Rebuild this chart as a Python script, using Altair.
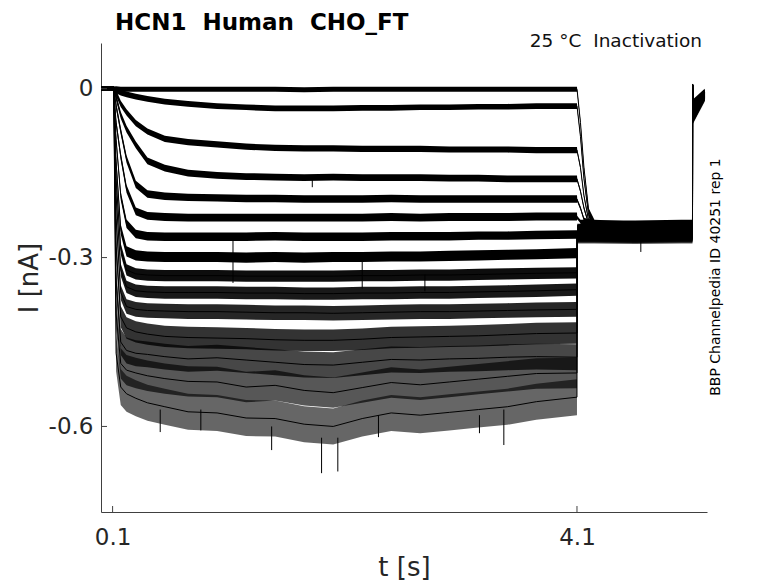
import altair as alt
import pandas as pd

# ---------------- data ----------------
TIMES = [0.0, 0.11, 0.13, 0.17, 0.22, 0.30, 0.40, 0.55, 0.75, 1.00, 1.25, 1.50,
         1.75, 2.00, 2.25, 2.50, 2.75, 3.00, 3.25, 3.50, 3.75, 4.10,
         4.102, 4.13, 4.16, 4.20, 4.25, 4.60, 5.00, 5.095, 5.096, 5.098, 5.20]

T01 = [0.000, 0.000, 0.000, -0.001, -0.001, -0.001, -0.001, -0.001, -0.001, -0.001, -0.001,
       -0.001, -0.002, -0.001, -0.001, -0.001, -0.001, -0.001, -0.001, -0.001, -0.001, -0.001,
       -0.004, -0.060, -0.140, -0.215, -0.246, -0.249, -0.248, -0.248, 0.007, -0.022, -0.003]
T02 = [0.000, 0.000, -0.003, -0.007, -0.010, -0.014, -0.018, -0.023, -0.027, -0.031, -0.033,
       -0.035, -0.035, -0.035, -0.034, -0.034, -0.033, -0.033, -0.032, -0.032, -0.031, -0.031,
       -0.034, -0.085, -0.160, -0.224, -0.248, -0.251, -0.250, -0.250, 0.007, -0.025, -0.004]
T03 = [0.000, 0.000, -0.008, -0.027, -0.042, -0.061, -0.076, -0.089, -0.095, -0.099, -0.103,
       -0.105, -0.106, -0.106, -0.107, -0.107, -0.107, -0.108, -0.108, -0.108, -0.109, -0.109,
       -0.111, -0.140, -0.190, -0.234, -0.247, -0.247, -0.246, -0.246, 0.007, -0.028, -0.006]
T04 = [0.000, 0.000, -0.015, -0.047, -0.072, -0.100, -0.128, -0.141, -0.150, -0.154, -0.156,
       -0.157, -0.158, -0.157, -0.158, -0.158, -0.158, -0.159, -0.159, -0.160, -0.160, -0.160,
       -0.162, -0.182, -0.212, -0.240, -0.252, -0.253, -0.252, -0.252, 0.007, -0.031, -0.007]
T05 = [0.000, 0.000, -0.030, -0.075, -0.125, -0.170, -0.187, -0.191, -0.193, -0.194, -0.195,
       -0.195, -0.196, -0.196, -0.196, -0.195, -0.196, -0.196, -0.196, -0.196, -0.196, -0.196,
       -0.198, -0.212, -0.232, -0.246, -0.249, -0.250, -0.249, -0.249, 0.007, -0.034, -0.008]
T06 = [0.000, 0.000, -0.060, -0.120, -0.178, -0.218, -0.226, -0.228, -0.229, -0.229, -0.229,
       -0.229, -0.229, -0.229, -0.229, -0.228, -0.229, -0.228, -0.228, -0.228, -0.227, -0.227,
       -0.229, -0.236, -0.246, -0.252, -0.254, -0.255, -0.254, -0.254, 0.007, -0.037, -0.009]
T07 = [0.000, 0.000, -0.090, -0.190, -0.240, -0.258, -0.262, -0.263, -0.263, -0.263, -0.263,
       -0.262, -0.263, -0.263, -0.263, -0.262, -0.262, -0.262, -0.261, -0.261, -0.260, -0.259,
       -0.256, -0.253, -0.251, -0.251, -0.251, -0.252, -0.251, -0.251, 0.007, -0.040, -0.010]
T08 = [0.000, 0.000, -0.130, -0.250, -0.289, -0.296, -0.298, -0.299, -0.299, -0.299, -0.300,
       -0.299, -0.300, -0.299, -0.299, -0.298, -0.298, -0.297, -0.296, -0.295, -0.294, -0.292,
       -0.256, -0.256, -0.256, -0.256, -0.256, -0.257, -0.256, -0.256, 0.007, -0.043, -0.011]
T09 = [0.000, 0.000, -0.160, -0.285, -0.322, -0.329, -0.331, -0.332, -0.332, -0.332, -0.333,
       -0.333, -0.333, -0.333, -0.332, -0.332, -0.331, -0.331, -0.330, -0.329, -0.328, -0.327,
       -0.253, -0.253, -0.253, -0.253, -0.253, -0.254, -0.253, -0.253, 0.007, -0.046, -0.012]
T10 = [0.000, 0.000, -0.190, -0.322, -0.352, -0.359, -0.361, -0.362, -0.362, -0.362, -0.363,
       -0.363, -0.364, -0.364, -0.363, -0.363, -0.362, -0.362, -0.361, -0.360, -0.359, -0.357,
       -0.258, -0.258, -0.258, -0.258, -0.258, -0.259, -0.258, -0.258, 0.007, -0.049, -0.013]
T11 = [0.000, 0.000, -0.230, -0.362, -0.387, -0.392, -0.394, -0.395, -0.396, -0.396, -0.397,
       -0.398, -0.398, -0.399, -0.398, -0.397, -0.396, -0.396, -0.395, -0.394, -0.393, -0.392,
       -0.255, -0.255, -0.255, -0.255, -0.255, -0.256, -0.255, -0.255, 0.007, -0.052, -0.014]
T12 = [0.000, 0.000, -0.280, -0.405, -0.425, -0.432, -0.436, -0.440, -0.442, -0.443, -0.444,
       -0.446, -0.447, -0.447, -0.445, -0.442, -0.441, -0.440, -0.439, -0.437, -0.435, -0.434,
       -0.260, -0.260, -0.260, -0.260, -0.260, -0.261, -0.260, -0.260, 0.007, -0.054, -0.015]
T13 = [0.000, 0.000, -0.340, -0.450, -0.465, -0.470, -0.472, -0.476, -0.480, -0.478, -0.482,
       -0.486, -0.490, -0.491, -0.486, -0.481, -0.482, -0.480, -0.479, -0.477, -0.476, -0.477,
       -0.257, -0.257, -0.257, -0.257, -0.257, -0.258, -0.257, -0.257, 0.007, -0.056, -0.016]
T14 = [0.000, 0.000, -0.400, -0.488, -0.500, -0.505, -0.510, -0.515, -0.520, -0.521, -0.530,
       -0.527, -0.536, -0.540, -0.531, -0.522, -0.526, -0.521, -0.516, -0.511, -0.506, -0.505,
       -0.262, -0.262, -0.262, -0.262, -0.262, -0.263, -0.262, -0.262, 0.007, -0.058, -0.018]
T15 = [0.000, 0.000, -0.470, -0.530, -0.542, -0.550, -0.558, -0.565, -0.574, -0.576, -0.585,
       -0.586, -0.596, -0.600, -0.586, -0.576, -0.580, -0.575, -0.570, -0.565, -0.556, -0.548,
       -0.259, -0.259, -0.259, -0.259, -0.259, -0.260, -0.259, -0.259, 0.007, -0.060, -0.020]
TRACES = [T01, T02, T03, T04, T05, T06, T07, T08, T09, T10, T11, T12, T13, T14, T15]

NOISE = [0.0045, 0.005, 0.0055, 0.006, 0.0065, 0.007, 0.0075, 0.009, 0.010, 0.011,
         0.013, 0.019, 0.023, 0.027, 0.032]
PRE_NOISE = 0.004
TAIL_NOISE = 0.013
THIN_NOISE = 0.003

# isolated downward spikes: time, from, to
SPIKE_T = [0.51, 0.86, 1.137, 1.47, 1.82, 1.90, 2.04, 2.25, 2.39, 2.79, 3.26, 3.47, 4.65]
SPIKE_A = [-0.57, -0.57, -0.270, -0.60, -0.160, -0.62, -0.62, -0.300, -0.58, -0.330, -0.58, -0.57, -0.27]
SPIKE_B = [-0.61, -0.607, -0.345, -0.642, -0.175, -0.683, -0.68, -0.355, -0.619, -0.360, -0.612, -0.633, -0.29]

X_TICKS = [0.1, 4.1]
Y_TICKS = [0, -0.3, -0.6]
X_DOMAIN = [0.0, 5.22]
Y_DOMAIN = [-0.752, 0.0812]

TITLE = "HCN1\u00a0 Human\u00a0 CHO_FT"
SUBTITLE = "25 \u00b0C\u00a0 Inactivation"
SIDE = "BBP Channelpedia ID 40251 rep 1"

# ---------------- styles ----------------
OPACITY = [1, 1, 1, 1, 1, 1, 1, 1, 0.95, 0.9, 0.85, 0.8, 0.72, 0.66, 0.6]
W, H = 606, 469
FONT = "DejaVu Sans"

rows = []
for k, vals in enumerate(TRACES):
    tail_level = vals[26]
    for j, (t, v) in enumerate(zip(TIMES, vals)):
        if j <= 1:
            n = PRE_NOISE
        elif j <= 21:
            n = NOISE[k]
        elif j <= 25:
            n = TAIL_NOISE if abs(v - tail_level) < 0.01 else THIN_NOISE
        elif j <= 29:
            n = TAIL_NOISE
        else:
            n = THIN_NOISE
        rows.append({"trace": k, "t": t, "I": v, "lo": v - n, "hi": v + n, "op": OPACITY[k]})
df = pd.DataFrame(rows)

spikes = pd.DataFrame({"t": SPIKE_T, "I": SPIKE_A, "I2": SPIKE_B})
xt = pd.DataFrame({"t": X_TICKS})
yt = pd.DataFrame({"I": Y_TICKS})

X_ENC = alt.X("t:Q", title="t [s]",
              scale=alt.Scale(domain=X_DOMAIN, nice=False, zero=False),
              axis=alt.Axis(values=X_TICKS, format=".1f", ticks=False, tickSize=0,
                            labelPadding=32, labelBaseline="alphabetic", labelFontSize=23,
                            titleFontSize=26, titleX=W / 2, titleY=63, titleAlign="center",
                            titleBaseline="alphabetic", grid=False))
Y_ENC = alt.Y("I:Q", title="I [nA]",
              scale=alt.Scale(domain=Y_DOMAIN, nice=False, zero=False),
              axis=alt.Axis(values=Y_TICKS, ticks=False, tickSize=0, labelPadding=8,
                            labelExpr="datum.value == 0 ? '0' : '-' + format(abs(datum.value), '.1f')",
                            labelFontSize=23, titleFontSize=26, titleAngle=270,
                            titleX=-64, titleY=H / 2, titleAlign="center",
                            titleBaseline="alphabetic", grid=False))

base = alt.Chart(df)
bands = base.mark_area(color="black", strokeWidth=0).encode(
    x=X_ENC, y=Y_ENC, y2="hi:Q",
    opacity=alt.Opacity("op:Q", scale=None), detail="trace:N",
).transform_calculate(I="datum.lo")

lines = base.mark_line(color="black", strokeWidth=1).encode(
    x=X_ENC, y=Y_ENC, detail="trace:N")

spk = alt.Chart(spikes).mark_rule(color="black", strokeWidth=1).encode(
    x=X_ENC, y=Y_ENC, y2="I2:Q")

xticks = alt.Chart(xt).mark_rule(color="#404040", strokeWidth=1).encode(
    x=X_ENC, y=alt.value(H), y2=alt.value(H - 6))
yticks = alt.Chart(yt).mark_rule(color="#404040", strokeWidth=1).encode(
    y=Y_ENC, x=alt.value(0), x2=alt.value(6))

title = alt.Chart(pd.DataFrame({"s": [TITLE]})).mark_text(
    font=FONT, fontSize=23, fontWeight="bold", align="left", baseline="alphabetic",
    color="black").encode(text="s:N", x=alt.value(14), y=alt.value(-13))
sub = alt.Chart(pd.DataFrame({"s": [SUBTITLE]})).mark_text(
    font=FONT, fontSize=18.5, align="right", baseline="alphabetic",
    color="#111111").encode(text="s:N", x=alt.value(601), y=alt.value(4))
side = alt.Chart(pd.DataFrame({"s": [SIDE]})).mark_text(
    font=FONT, fontSize=14, align="center", baseline="alphabetic", angle=270,
    color="black").encode(text="s:N", x=alt.value(619), y=alt.value(234))

chart = alt.layer(bands, lines, spk, xticks, yticks, title, sub, side).properties(
    width=W, height=H,
    autosize=alt.AutoSizeParams(type="none"),
    padding={"left": 93, "top": 35, "right": 60, "bottom": 70},
).configure_view(stroke=None).configure_axis(
    domainColor="#404040", domainWidth=1, labelColor="#262626", titleColor="#262626",
    labelFont=FONT, titleFont=FONT, titleFontWeight="normal",
)

chart.save("out.html", embed_options={"renderer": "svg", "actions": False})
